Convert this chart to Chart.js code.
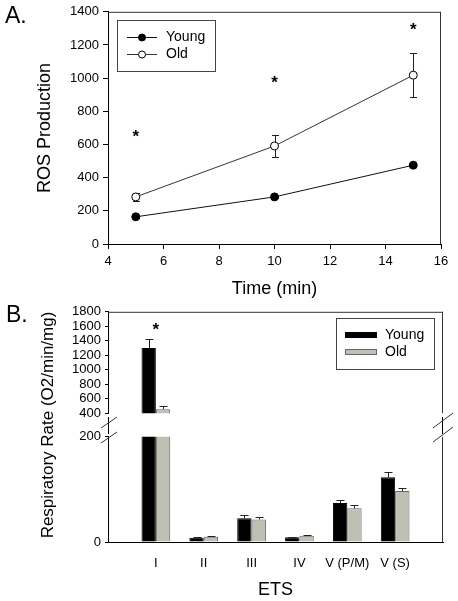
<!DOCTYPE html>
<html>
<head>
<meta charset="utf-8">
<script src="https://cdn.jsdelivr.net/npm/chart.js@4"></script>
<style>
body { margin: 0; background: #fff; }
#wrap { position: relative; width: 458px; height: 601px; }
canvas { position: absolute; left: 0; }
</style>
</head>
<body>
<div id="wrap">
	<canvas id="rosCanvas" width="458" height="300" style="top:0px"></canvas>
	<canvas id="upCanvas" width="458" height="125" style="top:300px"></canvas>
	<canvas id="lowCanvas" width="458" height="176" style="top:425px"></canvas>
	<canvas id="overCanvas" width="458" height="601" style="top:0px"></canvas>
</div>
<script>
// A. ROS production
var timeMin = [5, 10, 15];
var rosYoung = [164, 284, 475];
var rosOld = [284, 591, 1018];
var rosYoungErr = [6, 8, 10];
var rosOldErr = [24, 67, 134];
var rosStarY = [675, 1000, 1320];	// asterisk heights
var rosXTicks = [4, 6, 8, 10, 12, 14, 16];
var rosYTicks = [0, 200, 400, 600, 800, 1000, 1200, 1400];

// B. respiratory rate by ETS complex
var etsLabels = ['I', 'II', 'III', 'IV', 'V (P/M)', 'V (S)'];
var rateYoung = [1300, 8, 45, 9, 74, 123];
var rateOld = [455, 10, 43, 12, 64, 97];
var rateYoungErr = [130, 1, 6, 1, 5, 11];
var rateOldErr = [42, 1, 5, 1, 7, 6];
var rateStarCat = ['I'];
var rateStarY = [1624];
var upperTicks = [400, 600, 800, 1000, 1200, 1400, 1600, 1800];
var lowerTicks = [0, 200];

var FONT = '"Liberation Sans", Arial, sans-serif';
var OLD_GRAY = '#bfbfb3';

Chart.defaults.font.family = FONT;
Chart.defaults.color = '#000';
Chart.defaults.animation = false;

function pts(xs, ys) {
	return xs.map(function(x, i) { return { x: x, y: ys[i] }; });
}
function pad(arr) {	// empty slot on each side of the categories
	return [null].concat(arr, [null]);
}
function plain(v) { return String(v); }	// no thousands separator

// error bars, clipped to the plot area
var errorBarPlugin = {
	id: 'errorBars',
	beforeDatasetsDraw: function(chart, args, opts) { if (opts.under) drawErrors(chart, opts); },
	afterDatasetsDraw: function(chart, args, opts) { if (!opts.under) drawErrors(chart, opts); }
};
function drawErrors(chart, opts) {
	var ctx = chart.ctx, a = chart.chartArea;
	ctx.save();
	ctx.beginPath();
	ctx.rect(a.left, a.top, a.right - a.left, a.bottom - a.top);
	ctx.clip();
	ctx.strokeStyle = opts.color || '#000';
	ctx.lineWidth = 1;
	chart.data.datasets.forEach(function(ds, di) {
		if (!ds.errors) return;
		var meta = chart.getDatasetMeta(di);
		var ys = chart.scales[meta.yAxisID];
		meta.data.forEach(function(el, i) {
			var d = ds.data[i];
			var v = (d !== null && typeof d === 'object') ? d.y : d;
			var e = ds.errors[i];
			if (v == null || e == null) return;
			var x = Math.round(el.x) + 0.5;
			var yTop = Math.round(ys.getPixelForValue(v + e)) + 0.5;
			var yBot = opts.upOnly ? ys.getPixelForValue(v) : Math.round(ys.getPixelForValue(v - e)) + 0.5;
			ctx.beginPath();
			ctx.moveTo(x, yBot); ctx.lineTo(x, yTop);
			ctx.moveTo(x - opts.cap, yTop); ctx.lineTo(x + opts.cap, yTop);
			if (!opts.upOnly) { ctx.moveTo(x - opts.cap, yBot); ctx.lineTo(x + opts.cap, yBot); }
			ctx.stroke();
		});
	});
	ctx.restore();
}

// frame lines, asterisks, legend, panel letter
var extrasPlugin = {
	id: 'extras',
	afterDraw: function(chart, args, o) {
		var ctx = chart.ctx, a = chart.chartArea;
		ctx.save();
		ctx.strokeStyle = '#333';
		ctx.lineWidth = 1;
		if (o.frameTop) {
			ctx.beginPath(); ctx.moveTo(a.left, a.top + 0.5); ctx.lineTo(a.right, a.top + 0.5); ctx.stroke();
		}
		if (o.frameRight) {
			ctx.beginPath(); ctx.moveTo(Math.round(a.right) - 0.5, a.top); ctx.lineTo(Math.round(a.right) - 0.5, a.bottom); ctx.stroke();
		}
		if (o.starX) {
			ctx.fillStyle = '#000';
			ctx.font = 'bold 17px ' + FONT;
			ctx.textAlign = 'center';
			ctx.textBaseline = 'alphabetic';
			o.starX.forEach(function(x, i) {
				var px = chart.scales.x.getPixelForValue(x);
				var py = chart.scales.y.getPixelForValue(o.starY[i]);
				ctx.fillText('*', px, py + 10);
			});
		}
		if (o.letter) {
			ctx.fillStyle = '#000';
			ctx.font = '23px ' + FONT;
			ctx.textAlign = 'left';
			ctx.textBaseline = 'middle';
			ctx.fillText(o.letter.text, o.letter.x, o.letter.y);
		}
		if (o.legend) {
			var L = o.legend;
			ctx.strokeStyle = '#444';
			ctx.strokeRect(L.x + 0.5, L.y + 0.5, L.w, L.h);
			ctx.font = '14px ' + FONT;
			ctx.textAlign = 'left';
			ctx.textBaseline = 'middle';
			chart.data.datasets.forEach(function(ds, i) {
				var ry = L.y + L.rows[i];
				if (L.kind === 'line') {
					ctx.strokeStyle = ds.borderColor;
					ctx.beginPath(); ctx.moveTo(L.x + 10, ry + 0.5); ctx.lineTo(L.x + 40, ry + 0.5); ctx.stroke();
					ctx.beginPath(); ctx.arc(L.x + 25, ry + 0.5, 3.5, 0, Math.PI * 2);
					ctx.fillStyle = ds.pointBackgroundColor; ctx.fill();
					ctx.strokeStyle = '#000'; ctx.stroke();
				} else {
					ctx.fillStyle = ds.backgroundColor;
					ctx.fillRect(L.x + 9, ry - 3, 32, 6);
					ctx.strokeStyle = ds.borderColor;
					ctx.strokeRect(L.x + 9.5, ry - 2.5, 31, 5);
				}
				ctx.fillStyle = '#000';
				ctx.fillText(ds.label, L.x + 49, ry);
			});
		}
		ctx.restore();
	}
};

var tickFont = { size: 13 };

// ---------- A ----------
new Chart(document.getElementById('rosCanvas').getContext('2d'), {
	type: 'line',
	data: {
		datasets: [
			{
				label: 'Young',
				data: pts(timeMin, rosYoung),
				errors: rosYoungErr,
				borderColor: '#111',
				borderWidth: 1,
				pointRadius: 4,
				pointBackgroundColor: '#000',
				pointBorderColor: '#000',
				pointBorderWidth: 1,
				tension: 0
			},
			{
				label: 'Old',
				data: pts(timeMin, rosOld),
				errors: rosOldErr,
				borderColor: '#333',
				borderWidth: 1,
				pointRadius: 4,
				pointBackgroundColor: '#fff',
				pointBorderColor: '#000',
				pointBorderWidth: 1,
				tension: 0
			}
		]
	},
	options: {
		responsive: false,
		devicePixelRatio: 1,
		layout: { padding: { left: 0, top: 11, right: 17, bottom: 0 } },
		plugins: {
			legend: { display: false },
			tooltip: { enabled: false },
			errorBars: { under: true, cap: 3.5, color: '#222' },
			extras: {
				frameTop: true, frameRight: true,
				starX: timeMin, starY: rosStarY,
				letter: { text: 'A.', x: 5, y: 17 },
				legend: { kind: 'line', x: 117, y: 20, w: 98, h: 51, rows: [17, 34] }
			}
		},
		scales: {
			x: {
				type: 'linear', min: 4, max: 16,
				afterBuildTicks: function(s) { s.ticks = rosXTicks.map(function(v) { return { value: v }; }); },
				ticks: { font: tickFont, padding: 5, color: '#000', callback: plain },
				grid: { drawOnChartArea: false, tickLength: 5, color: '#000' },
				border: { color: '#000' },
				title: { display: true, text: 'Time (min)', font: { size: 18 }, padding: { top: 0, bottom: 0 } },
				afterFit: function(s) { s.height = 56; }
			},
			y: {
				min: 0, max: 1400,
				afterBuildTicks: function(s) { s.ticks = rosYTicks.map(function(v) { return { value: v }; }); },
				ticks: { font: tickFont, padding: 4, color: '#000', callback: plain },
				grid: { drawOnChartArea: false, tickLength: 5, color: '#000' },
				border: { color: '#000' },
				title: { display: true, text: 'ROS Production', font: { size: 18 }, padding: { top: 34, bottom: 0 } },
				afterFit: function(s) { s.width = 108; }
			}
		}
	},
	plugins: [errorBarPlugin, extrasPlugin]
});

// ---------- B, shared bar setup ----------
function barDatasets() {
	return [
		{
			label: 'Young',
			data: pad(rateYoung),
			errors: pad(rateYoungErr),
			backgroundColor: '#000',
			borderColor: '#000',
			borderWidth: 1,
			categoryPercentage: 0.6,
			barPercentage: 1.0,
			clip: 0
		},
		{
			label: 'Old',
			data: pad(rateOld),
			errors: pad(rateOldErr),
			backgroundColor: OLD_GRAY,
			borderColor: '#666',
			borderWidth: 1,
			categoryPercentage: 0.6,
			barPercentage: 1.0,
			clip: 0
		}
	];
}

// upper segment 400-1800
new Chart(document.getElementById('upCanvas').getContext('2d'), {
	type: 'bar',
	data: { labels: pad(etsLabels).map(function(l) { return l || ''; }), datasets: barDatasets() },
	options: {
		responsive: false,
		devicePixelRatio: 1,
		layout: { padding: { left: 0, top: 7, right: 15, bottom: 8 } },
		plugins: {
			legend: { display: false },
			tooltip: { enabled: false },
			errorBars: { upOnly: true, cap: 4, color: '#222' },
			extras: {
				frameTop: true, frameRight: true,
				starX: rateStarCat.map(function(c) { return etsLabels.indexOf(c) + 1; }), starY: rateStarY,
				letter: { text: 'B.', x: 6, y: 16 },
				legend: { kind: 'bar', x: 336, y: 18, w: 98, h: 51, rows: [17, 34] }
			}
		},
		scales: {
			x: { display: false, offset: false },
			y: {
				min: 400, max: 1800,
				afterBuildTicks: function(s) { s.ticks = upperTicks.map(function(v) { return { value: v }; }); },
				ticks: { font: tickFont, padding: 4, autoSkip: false, color: '#000', callback: plain },
				grid: { drawOnChartArea: false, tickLength: 3, color: '#000' },
				border: { color: '#000' },
				afterFit: function(s) { s.width = 108; }
			}
		}
	},
	plugins: [errorBarPlugin, extrasPlugin]
});

// lower segment 0-200
new Chart(document.getElementById('lowCanvas').getContext('2d'), {
	type: 'bar',
	data: { labels: pad(etsLabels).map(function(l) { return l || ''; }), datasets: barDatasets() },
	options: {
		responsive: false,
		devicePixelRatio: 1,
		layout: { padding: { left: 0, top: 9, right: 15, bottom: 0 } },
		plugins: {
			legend: { display: false },
			tooltip: { enabled: false },
			errorBars: { upOnly: true, cap: 4, color: '#222' },
			extras: { frameRight: true }
		},
		scales: {
			x: {
				offset: false,
				ticks: { font: tickFont, padding: 6, autoSkip: false, maxRotation: 0, color: '#000' },
				grid: { display: false },
				border: { display: true, color: '#000' },
				title: { display: true, text: 'ETS', font: { size: 18 }, padding: { top: 0, bottom: 0 } },
				afterFit: function(s) { s.height = 59; }
			},
			y: {
				min: 0, max: 200,
				afterBuildTicks: function(s) { s.ticks = lowerTicks.map(function(v) { return { value: v }; }); },
				ticks: { font: tickFont, padding: 4, color: '#000', callback: plain },
				grid: { drawOnChartArea: false, tickLength: 3, color: '#000' },
				border: { color: '#000' },
				afterFit: function(s) { s.width = 108; }
			}
		}
	},
	plugins: [errorBarPlugin, extrasPlugin]
});

// axis break marks and the shared y title
(function() {
	var ctx = document.getElementById('overCanvas').getContext('2d');
	ctx.strokeStyle = '#000';
	ctx.lineWidth = 1;
	ctx.beginPath();
	ctx.moveTo(108.5, 417); ctx.lineTo(108.5, 434);
	ctx.moveTo(442.5, 417); ctx.lineTo(442.5, 434);
	ctx.stroke();
	ctx.strokeStyle = '#333';
	ctx.beginPath();
	ctx.moveTo(101, 428); ctx.lineTo(117, 417);
	ctx.moveTo(101, 443); ctx.lineTo(117, 432);
	ctx.moveTo(433, 428); ctx.lineTo(453, 413);
	ctx.moveTo(433, 442); ctx.lineTo(453, 427);
	ctx.stroke();

	ctx.save();
	ctx.translate(48, 425);
	ctx.rotate(-Math.PI / 2);
	ctx.fillStyle = '#000';
	ctx.font = '17px ' + FONT;
	ctx.textAlign = 'center';
	ctx.textBaseline = 'middle';
	ctx.fillText('Respiratory Rate (O2/min/mg)', 0, 0);
	ctx.restore();
})();
</script>
</body>
</html>
